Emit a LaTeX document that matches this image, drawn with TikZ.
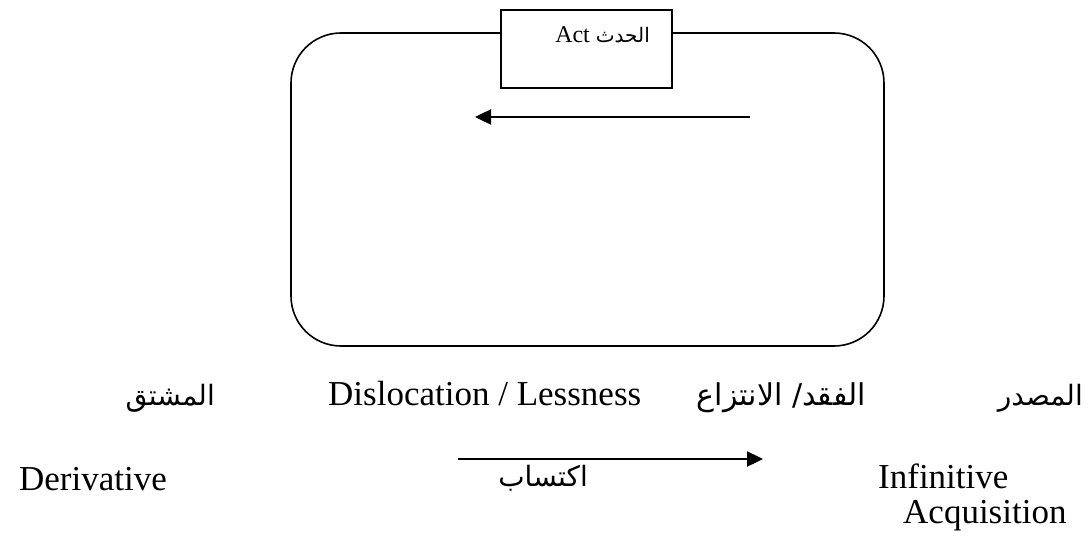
\documentclass[tikz,border=0pt]{standalone}
\usepackage{fontspec}
\setmainfont{Liberation Serif}
\newfontfamily\arabicfont[Script=Arabic]{DejaVu Sans}
\TeXXeTstate=1
\usetikzlibrary{arrows.meta}
\begin{document}
\begin{tikzpicture}[x=1pt,y=-1pt,
  lbl/.style={inner sep=0pt, font=\fontsize{35}{40}\selectfont},
  ar/.style={inner sep=0pt, font=\fontsize{28}{32}\selectfont\arabicfont},
  arr/.style={line width=2.4pt, -{Triangle[length=16pt,width=15pt]}}]
\useasboundingbox (0,0) rectangle (1088,546);

% rounded frame
\node[draw, line width=1.6pt, rounded corners=50pt, minimum width=593pt,
      minimum height=313pt, inner sep=0pt] (frame) at (587.5,189.5) {};
% act box over the top edge
\node[draw, fill=white, line width=1.6pt, minimum width=171pt,
      minimum height=78pt, inner sep=0pt] (actbox) at (586.5,49) {};
\node[inner sep=0pt, anchor=base east, font=\fontsize{24}{28}\selectfont]
  (acttext) at (650,42) {Act {\fontsize{20}{24}\selectfont\arabicfont\beginR الحدث\endR}};

% arrow inside the frame
\coordinate (inA) at (750,117);
\coordinate (inB) at (475,117);
\draw[arr] (inA) -- (inB);

% first row of labels
\node[ar, anchor=base east] (mushtaq) at (215,405) {\beginR المشتق\endR};
\node[lbl, anchor=base west] (disloc) at (328,405) {Dislocation / Lessness};
\node[ar, anchor=base east, font=\fontsize{30}{34}\selectfont\arabicfont]
  (faqd) at (866,405) {\beginR الفقد/ الانتزاع\endR};
\node[ar, anchor=base east] (masdar) at (1083,405) {\beginR المصدر\endR};

% second row
\node[lbl, anchor=base east] (deriv) at (167,490) {Derivative};
\coordinate (acqA) at (458,459);
\coordinate (acqB) at (763,459);
\draw[arr] (acqA) -- (acqB);
\node[ar, anchor=base east] (iktisab) at (588,486) {\beginR اكتساب\endR};
\node[lbl, anchor=base west] (infin) at (878,488) {Infinitive};
\node[lbl, anchor=base west] (acq) at (903,523) {Acquisition};
\end{tikzpicture}
\end{document}
